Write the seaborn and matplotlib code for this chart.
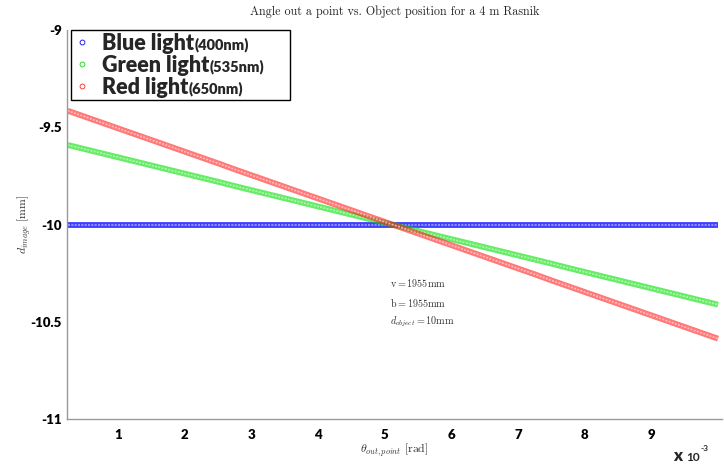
import numpy as np
import pandas as pd
import seaborn as sns
import matplotlib
matplotlib.use("Agg")
import matplotlib.pyplot as plt
from matplotlib.lines import Line2D
from matplotlib.font_manager import FontProperties

# ---- data (theta in units of 1e-3 rad, d_image in mm) ----
theta = [0.25, 0.5, 0.75, 1.0, 1.25, 1.5, 1.75, 2.0, 2.25, 2.5,
         2.75, 3.0, 3.25, 3.5, 3.75, 4.0, 4.25, 4.5, 4.75, 5.0,
         5.25, 5.5, 5.75, 6.0, 6.25, 6.5, 6.75, 7.0, 7.25, 7.5,
         7.75, 8.0, 8.25, 8.5, 8.75, 9.0, 9.25, 9.5, 9.75, 10.0]
blue_d = [-10.0, -10.0, -10.0, -10.0, -10.0, -10.0, -10.0, -10.0, -10.0, -10.0,
          -10.0, -10.0, -10.0, -10.0, -10.0, -10.0, -10.0, -10.0, -10.0, -10.0,
          -10.0, -10.0, -10.0, -10.0, -10.0, -10.0, -10.0, -10.0, -10.0, -10.0,
          -10.0, -10.0, -10.0, -10.0, -10.0, -10.0, -10.0, -10.0, -10.0, -10.0]
green_d = [-9.591, -9.612, -9.633, -9.654, -9.675, -9.696, -9.717, -9.738, -9.759, -9.780,
           -9.802, -9.823, -9.844, -9.865, -9.886, -9.907, -9.928, -9.949, -9.970, -9.991,
           -10.012, -10.033, -10.054, -10.075, -10.096, -10.117, -10.138, -10.159, -10.180, -10.201,
           -10.223, -10.244, -10.265, -10.286, -10.307, -10.328, -10.349, -10.370, -10.391, -10.412]
red_d = [-9.415, -9.445, -9.475, -9.505, -9.535, -9.565, -9.595, -9.625, -9.655, -9.685,
         -9.716, -9.746, -9.776, -9.806, -9.836, -9.866, -9.896, -9.926, -9.956, -9.986,
         -10.016, -10.046, -10.076, -10.106, -10.136, -10.166, -10.196, -10.226, -10.256, -10.287,
         -10.317, -10.347, -10.377, -10.407, -10.437, -10.467, -10.497, -10.527, -10.557, -10.587]

series_names = ["Blue light", "Green light", "Red light"]
wavelengths = ["(400nm)", "(535nm)", "(650nm)"]
series_colors = ["#0000ff", "#00e000", "#ff2020"]
series_alpha = [0.75, 0.6, 0.6]

x_ticks = [1, 2, 3, 4, 5, 6, 7, 8, 9]
x_ticklabels = ["1", "2", "3", "4", "5", "6", "7", "8", "9"]
y_ticks = [-11, -10.5, -10, -9.5, -9]
y_ticklabels = ["-11", "-10.5", "-10", "-9.5", "-9"]

annot_lines = [r"$\mathrm{v} = 1955\mathrm{mm}$",
               r"$\mathrm{b} = 1955\mathrm{mm}$",
               r"$d_{object} = 10\mathrm{mm}$"]

df = pd.concat([
    pd.DataFrame({"theta": theta, "d": blue_d, "series": series_names[0]}),
    pd.DataFrame({"theta": theta, "d": green_d, "series": series_names[1]}),
    pd.DataFrame({"theta": theta, "d": red_d, "series": series_names[2]}),
], ignore_index=True)

sns.set_theme(style="white")
plt.rcParams["mathtext.fontset"] = "cm"
plt.rcParams["font.family"] = ["DejaVu Sans"]

fig = plt.figure(figsize=(7.24, 4.66), dpi=100)
ax = fig.add_axes([0.09296, 0.10086, 0.9036, 0.83476])

for name, col, al in zip(series_names, series_colors, series_alpha):
    sub = df[df["series"] == name]
    sns.lineplot(data=sub, x="theta", y="d", color=col, lw=4.2, alpha=al,
                 ax=ax, legend=False, solid_capstyle="butt")
    sns.lineplot(data=sub, x="theta", y="d", color="white", lw=1.2, alpha=0.5,
                 ax=ax, legend=False, linestyle=(0, (1.2, 0.8)))

ax.set_xlim(0.244, 10.052)
ax.set_ylim(-11, -9)

tick_font = FontProperties(family="Lato", weight="heavy", size=9.5)
ax.set_xticks(x_ticks)
ax.set_xticklabels(x_ticklabels, fontproperties=tick_font, color="black")
ax.set_yticks(y_ticks)
ax.set_yticklabels(y_ticklabels, fontproperties=tick_font, color="black")
ax.tick_params(axis="both", direction="in", length=5, width=0.8, color="#888888")
ax.tick_params(axis="x", pad=7)
ax.tick_params(axis="y", pad=4)

for s in ["top", "right"]:
    ax.spines[s].set_visible(False)
for s in ["left", "bottom"]:
    ax.spines[s].set_color("#999999")
    ax.spines[s].set_linewidth(1.0)

ax.set_xlabel(r"$\theta_{out,point}\ \mathrm{[rad]}$", fontsize=8.5, color="#333333", labelpad=0)
ax.set_ylabel(r"$d_{image}\ \mathrm{[mm]}$", fontsize=8.5, color="#333333", labelpad=-2)
ax.set_title("Angle out a point vs. Object position for a 4 m Rasnik",
             fontsize=8.7, family="cmr10", pad=11)

# annotation text block
for i, t in enumerate(annot_lines):
    ax.text(5.08, -10.3 - i * 0.1, t, fontsize=7.3, color="#333333", va="center")

# legend
handles = [Line2D([], [], marker="o", linestyle="none", mfc="none", mec=c,
                  markersize=3.5, mew=0.6) for c in series_colors]
leg = ax.legend(handles, series_names, loc="upper left",
                bbox_to_anchor=(0.0057, 0.81, 0.335, 0.19), mode="expand",
                borderaxespad=0, prop=FontProperties(family="Lato", weight="heavy", size=15.5),
                frameon=True, fancybox=False, edgecolor="black", framealpha=1,
                handlelength=0.8, handletextpad=0.5, labelspacing=0.05, borderpad=0.12)
leg.get_frame().set_linewidth(1.0)

fig.canvas.draw()
renderer = fig.canvas.get_renderer()
inv = fig.transFigure.inverted()
for txt, wl in zip(leg.get_texts(), wavelengths):
    bb = txt.get_window_extent(renderer)
    x0, y0 = inv.transform((bb.x1 + 1, bb.y0 + 4))
    fig.text(x0, y0, wl, fontsize=10.5, family="Lato", weight="heavy", va="baseline", ha="left")

# x 10^-3 multiplier
fig.text(0.929, 0.011, "x", fontsize=12, family="Lato", weight="heavy", va="baseline")
fig.text(0.948, 0.011, "10", fontsize=8.5, family="Lato", weight="bold", va="baseline")
fig.text(0.967, 0.033, "-3", fontsize=6, family="Lato", weight="bold", va="baseline")

fig.savefig("out.png", dpi=100)
